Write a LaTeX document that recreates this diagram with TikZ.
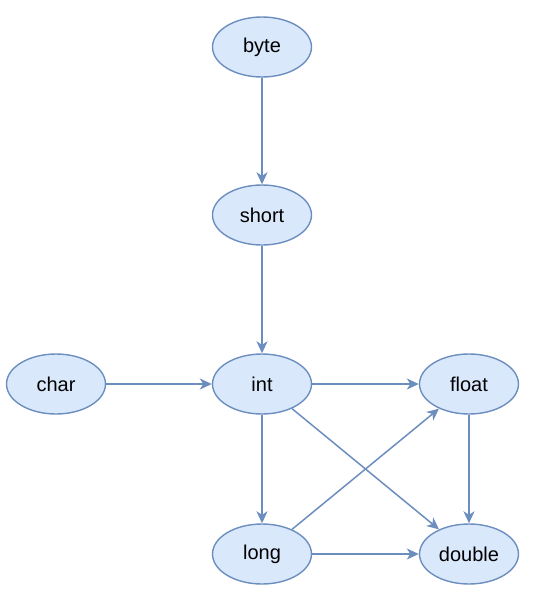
\documentclass[tikz,border=0pt]{standalone}
\usepackage{fontspec}
\setmainfont{Liberation Sans}
\usetikzlibrary{arrows.meta,shapes.geometric}
\definecolor{nodefill}{HTML}{DAE8FC}
\definecolor{nodeline}{HTML}{6C8EBF}
\tikzset{
  typenode/.style={ellipse, draw=nodeline, fill=nodefill, line width=1.4pt,
    minimum width=99pt, minimum height=60pt, inner sep=0pt,
    font=\fontsize{20}{24}\selectfont},
  conv/.style={draw=nodeline, line width=1.5pt,
    -{Stealth[length=12pt,width=11pt,inset=3.5pt]}}
}
\begin{document}
\begin{tikzpicture}[x=1pt,y=-1pt]
\useasboundingbox (0,0) rectangle (534,600);
\node[typenode] (byte)   at (262,47)  {byte};
\node[typenode] (short)  at (262,215) {short};
\node[typenode] (char)   at (56,384)  {char};
\node[typenode] (int)    at (262,384) {int};
\node[typenode] (float)  at (469,384) {float};
\node[typenode] (long)   at (262,554) {long};
\node[typenode] (double) at (469,554) {double};
\draw[conv] (byte) -- (short);
\draw[conv] (short) -- (int);
\draw[conv] (char) -- (int);
\draw[conv] (int) -- (float);
\draw[conv] (int) -- (long);
\draw[conv] (int) -- (double);
\draw[conv] (long) -- (float);
\draw[conv] (long) -- (double);
\draw[conv] (float) -- (double);
\end{tikzpicture}
\end{document}
